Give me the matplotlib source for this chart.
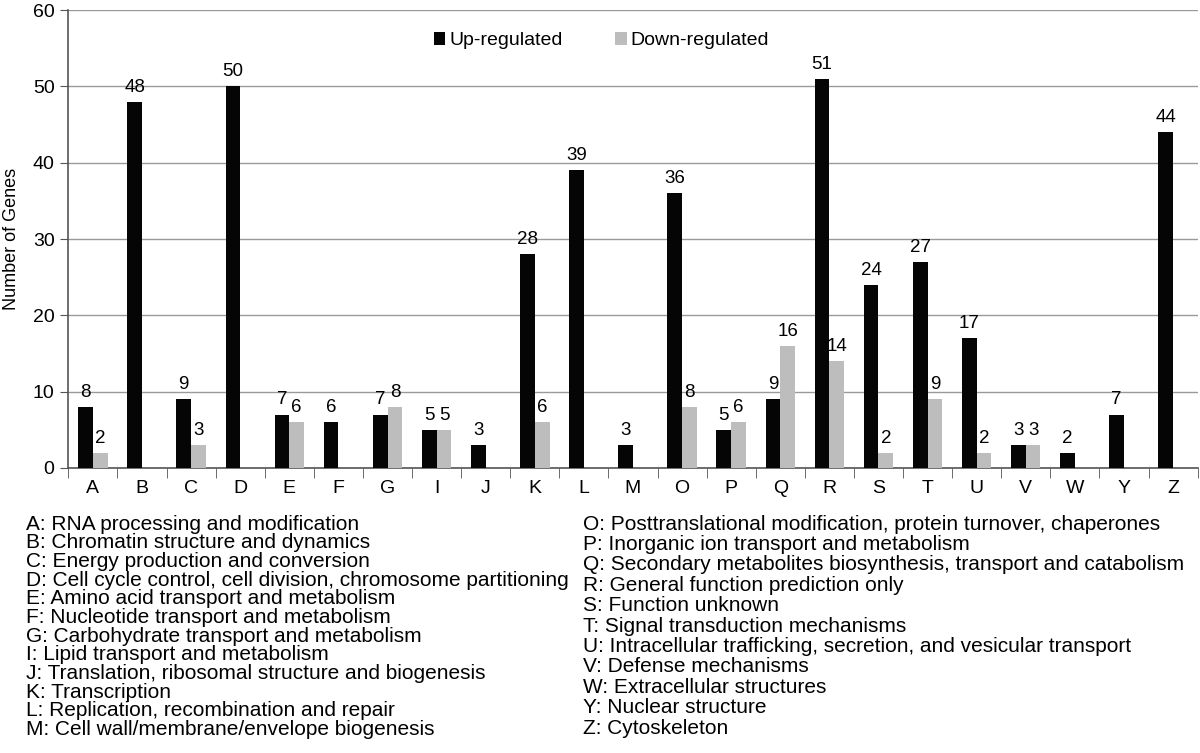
import numpy as np
import matplotlib.pyplot as plt

plt.rcParams['font.family'] = ['Liberation Sans', 'DejaVu Sans']

categories = ["A", "B", "C", "D", "E", "F", "G", "I", "J", "K", "L", "M",
              "O", "P", "Q", "R", "S", "T", "U", "V", "W", "Y", "Z"]
up_values = [8, 48, 9, 50, 7, 6, 7, 5, 3, 28, 39, 3,
             36, 5, 9, 51, 24, 27, 17, 3, 2, 7, 44]
down_values = [2, 0, 3, 0, 6, 0, 8, 5, 0, 6, 0, 0,
               8, 6, 16, 14, 2, 9, 2, 3, 0, 0, 0]

left_notes = [
    "A: RNA processing and modification",
    "B: Chromatin structure and dynamics",
    "C: Energy production and conversion",
    "D: Cell cycle control, cell division, chromosome partitioning",
    "E: Amino acid transport and metabolism",
    "F: Nucleotide transport and metabolism",
    "G: Carbohydrate transport and metabolism",
    "I: Lipid transport and metabolism",
    "J: Translation, ribosomal structure and biogenesis",
    "K: Transcription",
    "L: Replication, recombination and repair",
    "M: Cell wall/membrane/envelope biogenesis",
]
right_notes = [
    "O: Posttranslational modification, protein turnover, chaperones",
    "P: Inorganic ion transport and metabolism",
    "Q: Secondary metabolites biosynthesis, transport and catabolism",
    "R: General function prediction only",
    "S: Function unknown",
    "T: Signal transduction mechanisms",
    "U: Intracellular trafficking, secretion, and vesicular transport",
    "V: Defense mechanisms",
    "W: Extracellular structures",
    "Y: Nuclear structure",
    "Z: Cytoskeleton",
]

fig = plt.figure(figsize=(12, 7.53), dpi=100)
ax = fig.add_axes([0.057, 0.3785, 0.941, 0.608])

x = np.arange(len(categories))
w = 0.3
up_c = "#050505"
down_c = "#bdbdbd"
ax.bar(x - w / 2, up_values, w, color=up_c, label="Up-regulated", zorder=3)
ax.bar(x + w / 2, down_values, w, color=down_c, label="Down-regulated", zorder=3)

for i in range(len(categories)):
    if up_values[i] > 0:
        ax.text(x[i] - w / 2, up_values[i] + 0.8, str(up_values[i]),
                ha="center", va="bottom", fontsize=13.5)
    if down_values[i] > 0:
        ax.text(x[i] + w / 2, down_values[i] + 0.8, str(down_values[i]),
                ha="center", va="bottom", fontsize=13.5)

ax.set_xlim(-0.5, len(categories) - 0.5)
ax.set_ylim(0, 60)
ax.set_yticks(range(0, 61, 10))
ax.tick_params(axis="y", labelsize=14, length=6, color="#555555",
               direction="out", pad=4)
ax.set_xticks(x)
ax.set_xticklabels(categories, fontsize=14)
ax.tick_params(axis="x", length=0, pad=9)
ax.set_xticks(np.arange(-0.5, len(categories), 1), minor=True)
ax.tick_params(axis="x", which="minor", length=7, color="#555555")
ax.yaxis.grid(True, color="#9a9a9a", linewidth=1, zorder=0)
for s in ["top", "right"]:
    ax.spines[s].set_visible(False)
for s in ["left", "bottom"]:
    ax.spines[s].set_color("#555555")
    ax.spines[s].set_linewidth(1.2)
ax.set_ylabel("Number of Genes", fontsize=13)
ax.yaxis.set_label_coords(-0.0425, 0.5)

leg = ax.legend(loc="upper center", bbox_to_anchor=(0.472, 0.99), ncol=2,
                frameon=False, fontsize=14, handlelength=0.6, handleheight=0.6,
                handletextpad=0.2, columnspacing=2.7)

for k, t in enumerate(left_notes):
    fig.text(0.022, 1 - (524 + 18.7 * k) / 753, t, fontsize=15, va="center", ha="left")
for k, t in enumerate(right_notes):
    fig.text(0.486, 1 - (524 + 20.4 * k) / 753, t, fontsize=15, va="center", ha="left")

fig.savefig("out.png", dpi=100)
